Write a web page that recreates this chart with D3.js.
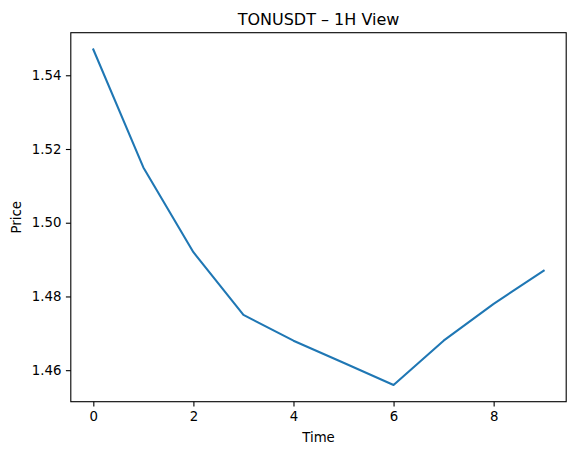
<!DOCTYPE html>
<html>
<head>
<meta charset="utf-8">
<script src="https://cdn.jsdelivr.net/npm/d3@7"></script>
<style>
  html, body { margin: 0; padding: 0; background: #fff; }
  svg { display: block; font-family: "DejaVu Sans", sans-serif; }
</style>
</head>
<body>
<svg id="chart" width="576" height="455"></svg>
<script>
const times = [0, 1, 2, 3, 4, 5, 6, 7, 8, 9];
const prices = [1.547, 1.515, 1.492, 1.475, 1.468, 1.462, 1.456, 1.468, 1.478, 1.487];
const xTicks = [0, 2, 4, 6, 8];
const yTicks = [1.46, 1.48, 1.50, 1.52, 1.54];
const titleText = "TONUSDT \u2013 1H View";
const xLabel = "Time";
const yLabel = "Price";

(function () {
const svg = d3.select("#chart");
const mLeft = 70.8, mRight = 566.2, mTop = 32.7, mBottom = 401.7;

const xMin = d3.min(times), xMax = d3.max(times);
const xPad = (xMax - xMin) * 0.05;
const yMin = d3.min(prices), yMax = d3.max(prices);
const yPad = (yMax - yMin) * 0.05;

const x = d3.scaleLinear().domain([xMin - xPad, xMax + xPad]).range([mLeft, mRight]);
const y = d3.scaleLinear().domain([yMin - yPad, yMax + yPad]).range([mBottom, mTop]);

const line = d3.line().x((d, i) => x(times[i])).y(d => y(d));
svg.append("path")
  .datum(prices)
  .attr("d", line)
  .attr("fill", "none")
  .attr("stroke", "#1f77b4")
  .attr("stroke-width", 2.08)
  .attr("stroke-linejoin", "round")
  .attr("stroke-linecap", "square");

const xAxis = d3.axisBottom(x).tickValues(xTicks).tickFormat(d3.format("d")).tickSize(4.9).tickPadding(4.5);
const yAxis = d3.axisLeft(y).tickValues(yTicks).tickFormat(d3.format(".2f")).tickSize(4.9).tickPadding(4.5);

const gx = svg.append("g").attr("transform", `translate(0,${mBottom})`).call(xAxis);
const gy = svg.append("g").attr("transform", `translate(${mLeft},0)`).call(yAxis);
[gx, gy].forEach(g => {
  g.select(".domain").remove();
  g.selectAll(".tick line").attr("stroke", "#000").attr("stroke-width", 1.1);
  g.selectAll(".tick text").attr("fill", "#000").style("font-size", "13.3px").style("font-family", "DejaVu Sans");
});

svg.append("rect")
  .attr("x", mLeft).attr("y", mTop)
  .attr("width", mRight - mLeft).attr("height", mBottom - mTop)
  .attr("fill", "none").attr("stroke", "#000").attr("stroke-width", 1.1);

svg.append("text")
  .attr("x", (mLeft + mRight) / 2).attr("y", 24.5)
  .attr("text-anchor", "middle")
  .style("font-size", "16px")
  .attr("fill", "#000")
  .text(titleText);

svg.append("text")
  .attr("x", (mLeft + mRight) / 2).attr("y", 442)
  .attr("text-anchor", "middle")
  .style("font-size", "13.3px")
  .attr("fill", "#000")
  .text(xLabel);

svg.append("text")
  .attr("transform", `translate(21,${(mTop + mBottom) / 2}) rotate(-90)`)
  .attr("text-anchor", "middle")
  .style("font-size", "13.3px")
  .attr("fill", "#000")
  .text(yLabel);
})();
</script>
</body>
</html>
